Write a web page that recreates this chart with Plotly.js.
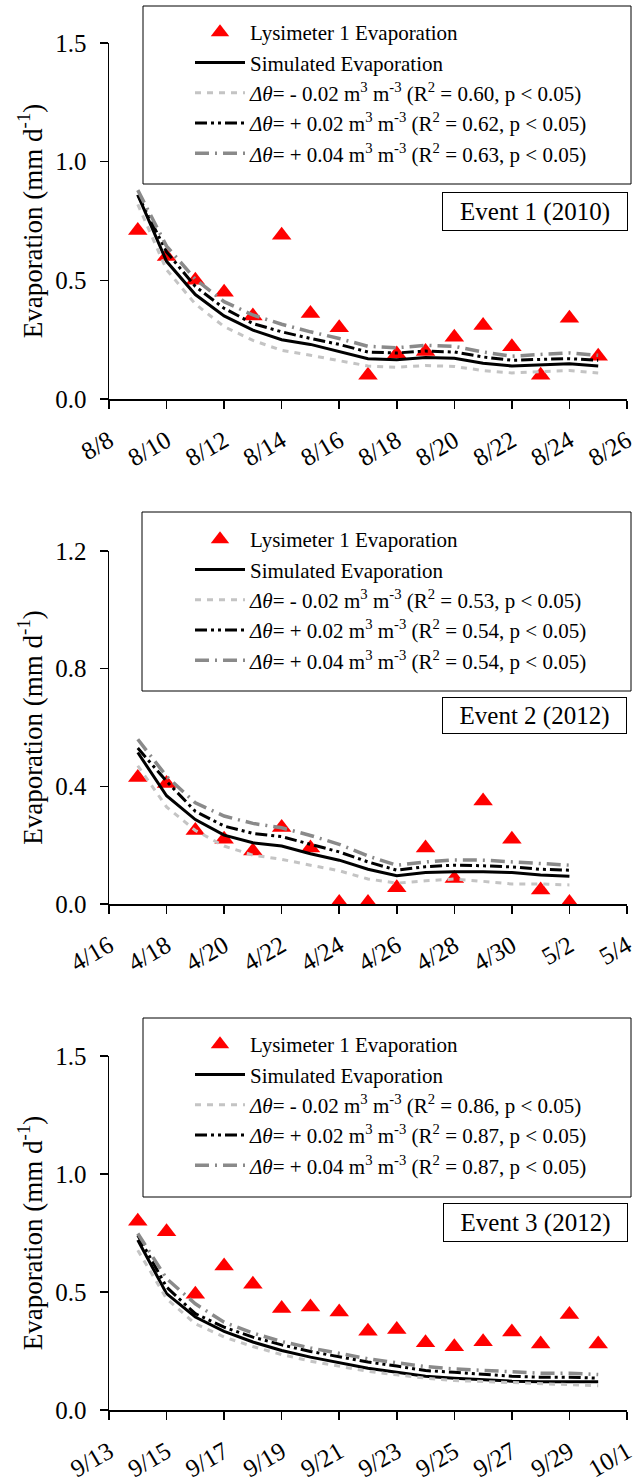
<!DOCTYPE html>
<html>
<head>
<meta charset="utf-8">
<script src="https://cdn.plot.ly/plotly-3.0.1.min.js"></script>
<style>
html, body { margin: 0; padding: 0; background: #fff; }
#chart { width: 633px; height: 1481px; }
#chart svg text { font-family: 'Liberation Serif', 'Times New Roman', serif !important; }
</style>
</head>
<body>
<div id="chart"></div>
<script>
// ---------- Event 1 (2010) ----------
const dates1 = ['2010-08-09','2010-08-10','2010-08-11','2010-08-12','2010-08-13','2010-08-14','2010-08-15','2010-08-16','2010-08-17','2010-08-18','2010-08-19','2010-08-20','2010-08-21','2010-08-22','2010-08-23','2010-08-24','2010-08-25'];
const lys1   = [0.71, 0.60, 0.50, 0.45, 0.35, 0.69, 0.36, 0.30, 0.10, 0.19, 0.20, 0.26, 0.31, 0.22, 0.10, 0.34, 0.18];
const sim1   = [0.86, 0.58, 0.44, 0.35, 0.29, 0.25, 0.23, 0.20, 0.17, 0.165, 0.175, 0.172, 0.151, 0.139, 0.144, 0.149, 0.139];
const minus1 = [0.82, 0.545, 0.40, 0.305, 0.247, 0.205, 0.184, 0.163, 0.139, 0.134, 0.141, 0.137, 0.12, 0.11, 0.116, 0.12, 0.11];
const plusA1 = [0.86, 0.62, 0.474, 0.382, 0.318, 0.283, 0.255, 0.23, 0.198, 0.194, 0.202, 0.198, 0.177, 0.163, 0.167, 0.17, 0.163];
const plusB1 = [0.88, 0.644, 0.505, 0.41, 0.354, 0.315, 0.283, 0.255, 0.222, 0.216, 0.226, 0.222, 0.198, 0.18, 0.188, 0.194, 0.184];
const r2_1 = ['0.60', '0.62', '0.63'];
const range1 = ['2010-08-08', '2010-08-26'];

// ---------- Event 2 (2012) ----------
const dates2 = ['2012-04-17','2012-04-18','2012-04-19','2012-04-20','2012-04-21','2012-04-22','2012-04-23','2012-04-24','2012-04-25','2012-04-26','2012-04-27','2012-04-28','2012-04-29','2012-04-30','2012-05-01','2012-05-02'];
const lys2   = [0.43, 0.41, 0.25, 0.22, 0.18, 0.26, 0.19, 0.005, 0.005, 0.055, 0.19, 0.087, 0.35, 0.22, 0.048, 0.005];
const sim2   = [0.515, 0.368, 0.287, 0.234, 0.208, 0.197, 0.171, 0.149, 0.118, 0.096, 0.107, 0.11, 0.11, 0.107, 0.099, 0.094];
const minus2 = [0.47, 0.33, 0.25, 0.197, 0.166, 0.152, 0.132, 0.113, 0.085, 0.071, 0.079, 0.085, 0.077, 0.068, 0.068, 0.065];
const plusA2 = [0.53, 0.417, 0.315, 0.265, 0.24, 0.229, 0.203, 0.177, 0.143, 0.115, 0.127, 0.132, 0.13, 0.126, 0.118, 0.115];
const plusB2 = [0.56, 0.434, 0.344, 0.299, 0.274, 0.259, 0.233, 0.203, 0.163, 0.132, 0.143, 0.15, 0.149, 0.144, 0.137, 0.132];
const r2_2 = ['0.53', '0.54', '0.54'];
const range2 = ['2012-04-16', '2012-05-04'];

// ---------- Event 3 (2012) ----------
const dates3 = ['2012-09-14','2012-09-15','2012-09-16','2012-09-17','2012-09-18','2012-09-19','2012-09-20','2012-09-21','2012-09-22','2012-09-23','2012-09-24','2012-09-25','2012-09-26','2012-09-27','2012-09-28','2012-09-29','2012-09-30'];
const lys3   = [0.80, 0.755, 0.49, 0.61, 0.533, 0.43, 0.436, 0.415, 0.334, 0.341, 0.285, 0.268, 0.289, 0.331, 0.28, 0.405, 0.28];
const sim3   = [0.72, 0.493, 0.394, 0.333, 0.288, 0.252, 0.224, 0.20, 0.177, 0.16, 0.143, 0.135, 0.127, 0.122, 0.12, 0.12, 0.12];
const minus3 = [0.677, 0.472, 0.365, 0.309, 0.269, 0.235, 0.207, 0.184, 0.164, 0.149, 0.135, 0.125, 0.12, 0.115, 0.11, 0.108, 0.103];
const plusA3 = [0.74, 0.521, 0.408, 0.351, 0.309, 0.276, 0.248, 0.227, 0.203, 0.186, 0.167, 0.16, 0.15, 0.143, 0.139, 0.139, 0.135];
const plusB3 = [0.748, 0.557, 0.45, 0.372, 0.326, 0.29, 0.263, 0.241, 0.217, 0.2, 0.184, 0.174, 0.167, 0.16, 0.156, 0.156, 0.15];
const r2_3 = ['0.86', '0.87', '0.87'];
const range3 = ['2012-09-13', '2012-10-01'];

const eventLabels = ['Event 1 (2010)', 'Event 2 (2012)', 'Event 3 (2012)'];
const yRanges = [[0, 1.5], [0, 1.2], [0, 1.5]];
const yDticks = [0.5, 0.4, 0.5];

// ---------- geometry helpers ----------
const W = 633, H = 1481;
const px = v => v / W;
const py = v => 1 - v / H;
const FONT = 'Liberation Serif';
const DAY = 86400000;

const panels = [
  {dates: dates1, lys: lys1, sim: sim1, minus: minus1, plusA: plusA1, plusB: plusB1, r2: r2_1, range: range1,
   top: 43, bottom: 399, legTop: 12, box: [143, 6, 631, 184], ev: [442, 192, 628, 231]},
  {dates: dates2, lys: lys2, sim: sim2, minus: minus2, plusA: plusA2, plusB: plusB2, r2: r2_2, range: range2,
   top: 551, bottom: 904, legTop: 519, box: [142, 512, 631, 691], ev: [442, 697, 627, 734]},
  {dates: dates3, lys: lys3, sim: sim3, minus: minus3, plusA: plusA3, plusB: plusB3, r2: r2_3, range: range3,
   top: 1056, bottom: 1410, legTop: 1024, box: [143, 1018, 631, 1197], ev: [443, 1203, 628, 1242]}
];

const traces = [];
const layout = {
  width: W, height: H,
  margin: {l: 0, r: 0, t: 0, b: 0},
  paper_bgcolor: '#fff', plot_bgcolor: '#fff',
  font: {family: FONT, color: '#000'},
  showlegend: true,
  shapes: [], annotations: []
};

panels.forEach((p, i) => {
  const n = i + 1;
  const xa = 'x' + (n === 1 ? '' : n);
  const ya = 'y' + (n === 1 ? '' : n);
  const lg = 'legend' + (n === 1 ? '' : n);
  const common = {xaxis: xa, yaxis: ya, legend: lg, type: 'scatter'};

  traces.push(Object.assign({}, common, {
    x: p.dates, y: p.lys, mode: 'markers', name: 'Lysimeter 1 Evaporation',
    marker: {symbol: 'triangle-up', size: 17, color: '#ff0000', line: {width: 0}}
  }));
  traces.push(Object.assign({}, common, {
    x: p.dates, y: p.sim, mode: 'lines', name: 'Simulated Evaporation',
    line: {color: '#000000', width: 3}
  }));
  traces.push(Object.assign({}, common, {
    x: p.dates, y: p.minus, mode: 'lines',
    name: '<i>Δθ</i>= - 0.02 m<sup>3</sup> m<sup>-3</sup> (R<sup>2</sup> = ' + p.r2[0] + ', p &lt; 0.05)',
    line: {color: '#c4c4c4', width: 3, dash: '6px,6px'}
  }));
  traces.push(Object.assign({}, common, {
    x: p.dates, y: p.plusA, mode: 'lines',
    name: '<i>Δθ</i>= + 0.02 m<sup>3</sup> m<sup>-3</sup> (R<sup>2</sup> = ' + p.r2[1] + ', p &lt; 0.05)',
    line: {color: '#000000', width: 3, dash: '12px,4px,3px,4px,3px,4px'}
  }));
  traces.push(Object.assign({}, common, {
    x: p.dates, y: p.plusB, mode: 'lines',
    name: '<i>Δθ</i>= + 0.04 m<sup>3</sup> m<sup>-3</sup> (R<sup>2</sup> = ' + p.r2[2] + ', p &lt; 0.05)',
    line: {color: '#8a8a8a', width: 3.5, dash: '14px,6px,2px,6px'}
  }));

  // tiny extension so the closing tick at the range end is kept
  const rangeEnd = new Date(Date.parse(p.range[1] + 'T00:00:00Z') + 60000).toISOString().slice(0, 19).replace('T', ' ');
  layout['xaxis' + (n === 1 ? '' : n)] = {
    type: 'date', range: [p.range[0], rangeEnd], domain: [px(109), px(627)], anchor: ya,
    tickmode: 'linear', tick0: p.range[0], dtick: 2 * DAY, tickformat: '%-m/%-d',
    tickangle: -30, ticks: 'outside', ticklen: 8, tickwidth: 1.5, tickcolor: '#000',
    showline: true, linecolor: '#000', linewidth: 1.5, showgrid: false, zeroline: false,
    tickfont: {family: FONT, size: 25, color: '#000'}, ticklabelstandoff: 8,
    ticklabeloverflow: 'allow',
    automargin: false, fixedrange: true
  };
  layout['yaxis' + (n === 1 ? '' : n)] = {
    range: yRanges[i], domain: [py(p.bottom), py(p.top)], anchor: xa,
    tickmode: 'linear', tick0: 0, dtick: yDticks[i], tickformat: '.1f',
    ticks: 'outside', ticklen: 8, tickwidth: 1.5, tickcolor: '#000',
    showline: true, linecolor: '#000', linewidth: 1.5, showgrid: false, zeroline: false,
    tickfont: {family: FONT, size: 25, color: '#000'}, ticklabelstandoff: 8,
    ticklabeloverflow: 'allow',
    title: {text: 'Evaporation (mm d<sup>-1</sup>)', font: {family: FONT, size: 27, color: '#000'}, standoff: 5},
    automargin: false, fixedrange: true
  };
  layout[lg] = {
    x: px(190), xanchor: 'left', y: py(p.legTop), yanchor: 'top',
    bgcolor: 'rgba(0,0,0,0)', borderwidth: 0, itemwidth: 50, tracegroupgap: 0,
    font: {family: FONT, size: 21, color: '#000'}
  };
  layout.shapes.push({
    type: 'rect', xref: 'paper', yref: 'paper',
    x0: px(p.box[0]), x1: px(p.box[2]), y0: py(p.box[3]), y1: py(p.box[1]),
    line: {color: '#000', width: 1}
  });
  layout.annotations.push({
    xref: 'paper', yref: 'paper', x: px(p.ev[2]), xanchor: 'right', y: py(p.ev[1]), yanchor: 'top',
    text: eventLabels[i], showarrow: false, font: {family: FONT, size: 25, color: '#000'},
    bordercolor: '#000', borderwidth: 1, borderpad: 0, bgcolor: '#fff',
    width: p.ev[2] - p.ev[0] - 2, height: p.ev[3] - p.ev[1] - 2
  });
});

Plotly.newPlot('chart', traces, layout, {staticPlot: true, displayModeBar: false});
</script>
</body>
</html>
